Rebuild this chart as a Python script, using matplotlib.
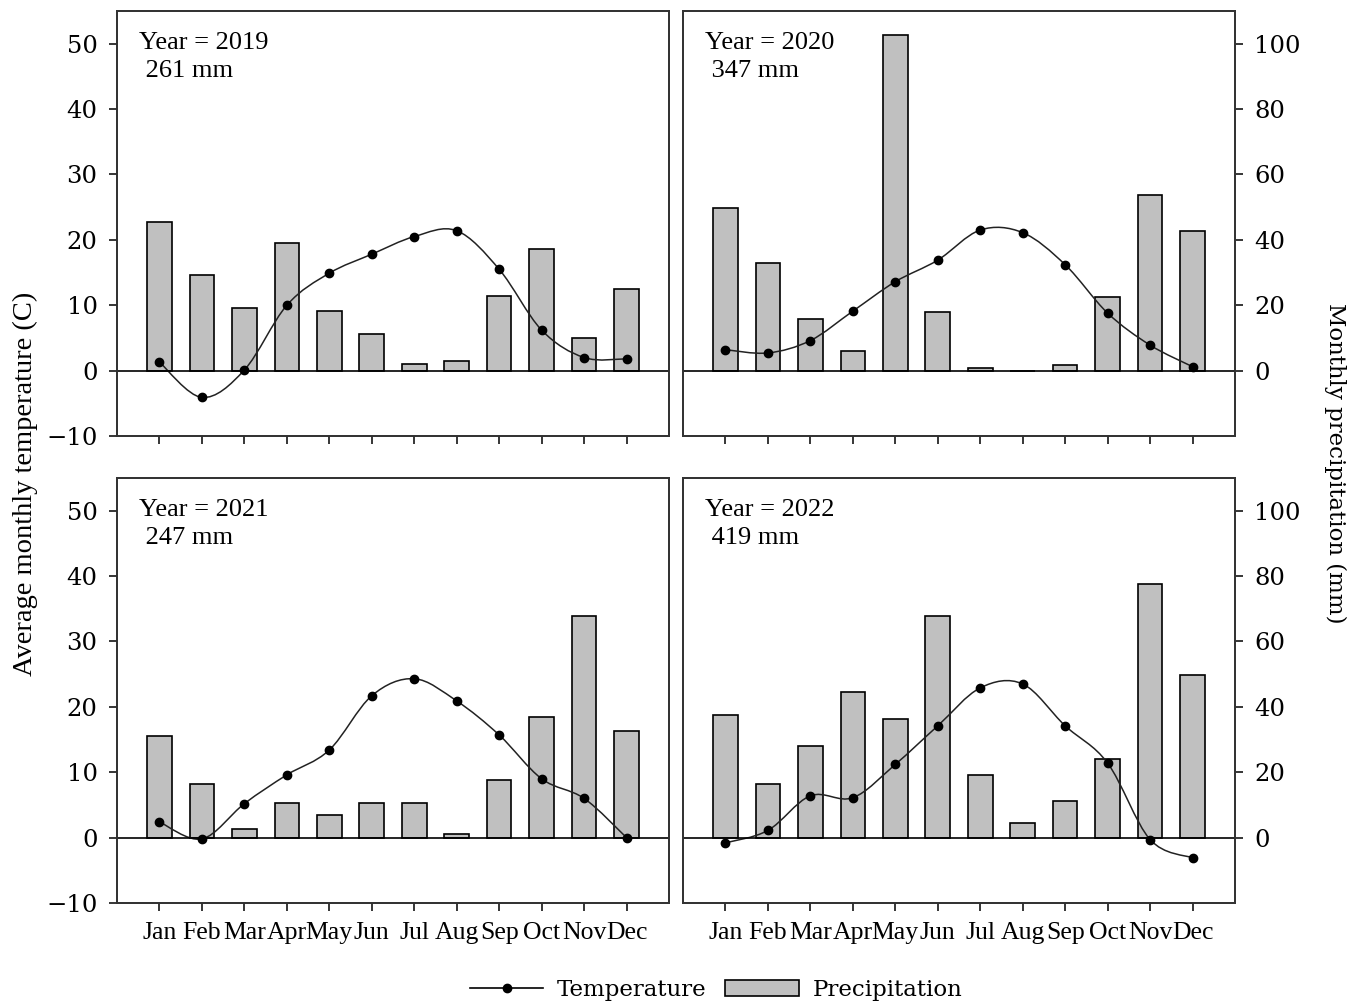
import numpy as np
import matplotlib.pyplot as plt
from matplotlib.path import Path
from matplotlib.patches import PathPatch, Patch
from matplotlib.lines import Line2D

months = ["Jan", "Feb", "Mar", "Apr", "May", "Jun",
          "Jul", "Aug", "Sep", "Oct", "Nov", "Dec"]
years = [2019, 2020, 2021, 2022]
totals = ["261 mm", "347 mm", "247 mm", "419 mm"]

# average monthly temperature (C)
temp_2019 = [1.3, -4.1, 0.1, 10.0, 14.9, 17.8, 20.5, 21.4, 15.5, 6.2, 2.0, 1.8]
temp_2020 = [3.2, 2.7, 4.6, 9.1, 13.6, 16.9, 21.5, 21.1, 16.2, 8.8, 3.9, 0.6]
temp_2021 = [2.4, -0.2, 5.2, 9.6, 13.4, 21.7, 24.3, 20.9, 15.7, 9.0, 6.0, 0.0]
temp_2022 = [-0.8, 1.1, 6.4, 6.1, 11.2, 17.1, 22.9, 23.5, 17.1, 11.4, -0.3, -3.1]

# monthly precipitation (mm)
prec_2019 = [45.4, 29.3, 19.1, 38.9, 18.1, 11.1, 1.9, 3.0, 22.9, 37.3, 10.0, 24.9]
prec_2020 = [49.8, 32.9, 15.7, 6.0, 102.8, 17.8, 0.8, 0.0, 1.8, 22.6, 53.7, 42.8]
prec_2021 = [31.0, 16.5, 2.7, 10.7, 7.0, 10.7, 10.7, 1.1, 17.7, 36.9, 67.9, 32.7]
prec_2022 = [37.5, 16.5, 27.9, 44.5, 36.4, 67.9, 19.2, 4.5, 11.2, 24.1, 77.5, 49.7]

temp_ticks = [-10, 0, 10, 20, 30, 40, 50]
prec_ticks = [0, 20, 40, 60, 80, 100]

temps = [temp_2019, temp_2020, temp_2021, temp_2022]
precs = [prec_2019, prec_2020, prec_2021, prec_2022]


def smooth_path(x, y):
    # Catmull-Rom spline through the points, drawn as cubic Bezier segments
    verts = [(x[0], y[0])]
    codes = [Path.MOVETO]
    n = len(x)
    for i in range(n - 1):
        x0, y0 = (x[i - 1], y[i - 1]) if i > 0 else (x[i], y[i])
        x3, y3 = (x[i + 2], y[i + 2]) if i + 2 < n else (x[i + 1], y[i + 1])
        c1 = (x[i] + (x[i + 1] - x0) / 6, y[i] + (y[i + 1] - y0) / 6)
        c2 = (x[i + 1] - (x3 - x[i]) / 6, y[i + 1] - (y3 - y[i]) / 6)
        verts += [c1, c2, (x[i + 1], y[i + 1])]
        codes += [Path.CURVE4] * 3
    return Path(verts, codes)


fig = plt.figure(figsize=(13.64, 10.05), dpi=100)
W, H = 1364, 1005
boxes = [(117, 11), (683, 11), (117, 478), (683, 478)]
aw, ah = 552, 425

x = np.arange(1, 13)
num_font = dict(family="DejaVu Serif", size=17.5)

for k in range(4):
    left, top = boxes[k]
    ax = fig.add_axes([left / W, 1 - (top + ah) / H, aw / W, ah / H])
    ax2 = ax.twinx()
    ax.set_zorder(ax2.get_zorder() + 1)
    ax.patch.set_visible(False)

    ax2.bar(x, precs[k], width=0.58, color="#c0c0c0", edgecolor="black", linewidth=1.2)
    ax.axhline(0, color="black", lw=1.2)
    ax.add_patch(PathPatch(smooth_path(x, temps[k]), fill=False, edgecolor="#222222", lw=1.1))
    ax.plot(x, temps[k], "o", color="black", ms=6)

    ax.set_xlim(0, 13)
    ax.set_ylim(-10, 55)
    ax2.set_ylim(-20, 110)
    ax.set_xticks(x)
    ax.set_yticks(temp_ticks)
    ax2.set_yticks(prec_ticks)

    for a in (ax, ax2):
        for s in a.spines.values():
            s.set_linewidth(1.3)
            s.set_color("#333333")
        a.tick_params(direction="out", length=6, width=1.1, pad=8)

    if k % 2 == 0:
        ax.set_yticklabels([str(v).replace("-", "\u2212") for v in temp_ticks], fontdict=num_font)
        ax2.tick_params(right=False, labelright=False)
    else:
        ax.tick_params(left=False, labelleft=False)
        ax2.set_yticklabels([str(v) for v in prec_ticks], fontdict=num_font)

    if k >= 2:
        ax.set_xticklabels(months, family="Liberation Serif", size=18.5)
    else:
        ax.set_xticklabels([])

    ax.text(0.04, 0.95, "Year = %d\n %s" % (years[k], totals[k]), transform=ax.transAxes,
            ha="left", va="top", family="Liberation Serif", size=19, linespacing=1.35)

fig.text(25 / W, 1 - 484 / H, "Average monthly temperature (C)", rotation=90,
         ha="center", va="center", family="Liberation Serif", size=20.5)
fig.text(1335 / W, 1 - 463 / H, "Monthly precipitation (mm)", rotation=270,
         ha="center", va="center", family="DejaVu Serif", size=16.5)

handles = [Line2D([], [], color="black", lw=1.2, marker="o", ms=6),
           Patch(facecolor="#c0c0c0", edgecolor="black", linewidth=1.2)]
fig.legend(handles, ["Temperature", "Precipitation"], loc="center",
           bbox_to_anchor=(0.525, 1 - 990 / H), ncol=2, frameon=False,
           prop=dict(family="DejaVu Serif", size=16.5), handlelength=3.2,
           columnspacing=0.8, handletextpad=0.6)

fig.savefig("out.png", dpi=100)
